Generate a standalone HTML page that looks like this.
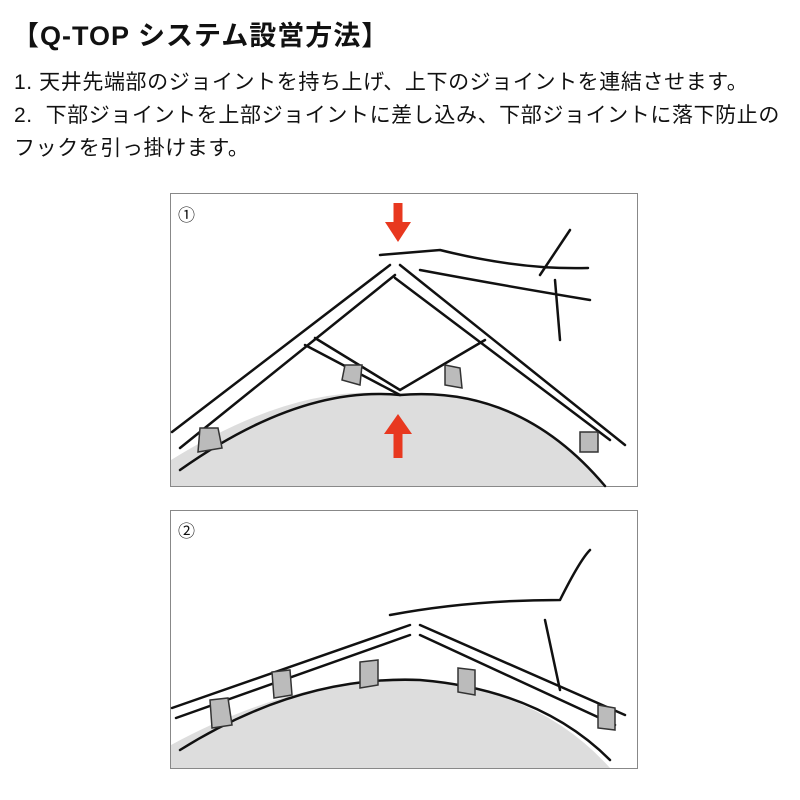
<!DOCTYPE html>
<html><head><meta charset="utf-8"><style>
body{margin:0;width:800px;height:800px;background:#fff;overflow:hidden;font-family:"Liberation Sans","Noto Sans CJK JP",sans-serif;color:#111}
.t{position:absolute;left:12px;top:14px;font-size:27px;font-weight:bold;white-space:nowrap;letter-spacing:1px}
.l{position:absolute;left:14px;font-size:21px;white-space:nowrap;letter-spacing:0.6px}
svg{position:absolute;left:0;top:0}
</style></head><body>
<div class="t">【Q-TOP システム設営方法】</div>
<div class="l" style="top:66px">1. 天井先端部のジョイントを持ち上げ、上下のジョイントを連結させます。</div>
<div class="l" style="top:99px">2.&nbsp; 下部ジョイントを上部ジョイントに差し込み、下部ジョイントに落下防止の</div>
<div class="l" style="top:132px">フックを引っ掛けます。</div>
<svg width="800" height="800" fill="none" stroke="#111" stroke-width="2.5" stroke-linecap="round">
<rect x="170.5" y="193.5" width="467" height="293" stroke="#888" stroke-width="1"/>
<path d="M171 486 L171 460 Q300 380 400 395 Q520 385 605 486 Z" fill="#ddd" stroke="none"/>
<path d="M180 470 Q300 385 400 395 Q520 385 605 486"/>
<path d="M172 432 L390 265 M180 448 L395 275 M400 265 L625 445 M395 278 L610 440"/>
<path d="M315 338 L400 390 L485 340 M305 345 L400 395"/>
<path d="M380 255 L440 250 Q520 270 588 268 M420 270 Q500 285 590 300 M555 280 L560 340 M570 230 L540 275"/>
<path d="M200 428 L218 428 L222 448 L198 452 Z M345 365 L362 365 L360 385 L342 380 Z M445 365 L460 368 L462 388 L445 385 Z M580 432 L598 432 L598 452 L580 452 Z" fill="#bbb" stroke="#333" stroke-width="1.5"/>
<text x="178" y="221" font-size="17" fill="#111" stroke="none">①</text>
<path d="M398 203 V225" stroke="#e8381f" stroke-width="9" stroke-linecap="butt"/>
<path d="M385 222 L411 222 L398 242 Z" fill="#e8381f" stroke="none"/>
<path d="M398 458 V433" stroke="#e8381f" stroke-width="9" stroke-linecap="butt"/>
<path d="M384 434 L412 434 L398 414 Z" fill="#e8381f" stroke="none"/>
<rect x="170.5" y="510.5" width="467" height="258" stroke="#888" stroke-width="1"/>
<path d="M171 768 L171 745 Q300 675 420 680 Q540 690 610 768 Z" fill="#ddd" stroke="none"/>
<path d="M180 750 Q300 675 420 680 Q540 690 610 760"/>
<path d="M172 708 L410 625 M176 718 L410 635 M420 625 L625 715 M420 635 L615 725"/>
<path d="M390 615 Q470 600 560 600 M560 600 Q580 560 590 550 M545 620 L560 690"/>
<path d="M210 700 L228 698 L232 725 L212 728 Z M272 672 L290 670 L292 695 L274 698 Z M360 662 L378 660 L378 685 L360 688 Z M458 668 L475 670 L475 695 L458 692 Z M598 705 L615 708 L615 730 L598 728 Z" fill="#bbb" stroke="#333" stroke-width="1.5"/>
<text x="178" y="537" font-size="17" fill="#111" stroke="none">②</text>
</svg>
</body></html>
